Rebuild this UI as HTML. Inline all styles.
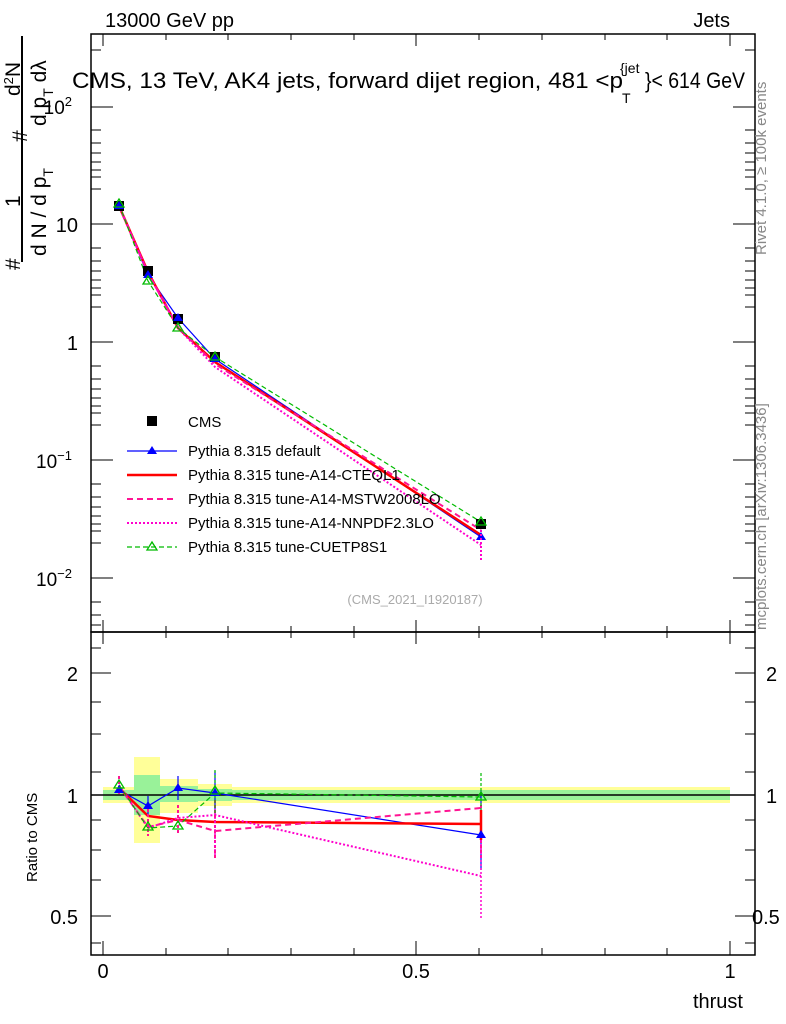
<!DOCTYPE html>
<html><head><meta charset="utf-8"><style>
body{margin:0;background:#fff}
svg{display:block;font-family:"Liberation Sans",sans-serif}
</style></head><body>
<svg width="786" height="1024" xmlns="http://www.w3.org/2000/svg">
<rect width="786" height="1024" fill="#fff"/>
<g>
<rect x="103" y="787" width="31" height="16" fill="#ffff99"/>
<rect x="134" y="757" width="26" height="86" fill="#ffff99"/>
<rect x="160" y="779" width="38" height="34" fill="#ffff99"/>
<rect x="198" y="784" width="34" height="22" fill="#ffff99"/>
<rect x="232" y="787" width="498" height="16" fill="#ffff99"/>
<rect x="103" y="790" width="31" height="10" fill="#99f299"/>
<rect x="134" y="775" width="26" height="40" fill="#99f299"/>
<rect x="160" y="786" width="38" height="16" fill="#99f299"/>
<rect x="198" y="789" width="34" height="12" fill="#99f299"/>
<rect x="232" y="790" width="498" height="10" fill="#99f299"/>
</g>
<line x1="91" y1="795" x2="755" y2="795" stroke="#000" stroke-width="1.5"/>
<rect x="91" y="34" width="664" height="598" fill="none" stroke="#000" stroke-width="1.5"/>
<rect x="91" y="632" width="664" height="323" fill="none" stroke="#000" stroke-width="1.5"/>
<g stroke="#000" stroke-width="1">
<line x1="91" y1="107" x2="113" y2="107"/><line x1="91" y1="224" x2="113" y2="224"/>
<line x1="91" y1="342" x2="113" y2="342"/><line x1="91" y1="460" x2="113" y2="460"/>
<line x1="91" y1="578" x2="113" y2="578"/>
<line x1="755" y1="107" x2="733" y2="107"/><line x1="755" y1="224" x2="733" y2="224"/>
<line x1="755" y1="342" x2="733" y2="342"/><line x1="755" y1="460" x2="733" y2="460"/>
<line x1="755" y1="578" x2="733" y2="578"/>
<path d="M91 50h10M91 130h10M91 143h10M91 153h10M91 162h10M91 170h10M91 177h10M91 189h10M91 248h10M91 261h10M91 271h10M91 280h10M91 288h10M91 295h10M91 307h10M91 366h10M91 379h10M91 389h10M91 398h10M91 406h10M91 413h10M91 425h10M91 484h10M91 497h10M91 507h10M91 516h10M91 524h10M91 531h10M91 543h10M91 602h10M91 615h10M91 625h10"/>
<path d="M755 50h-10M755 130h-10M755 143h-10M755 153h-10M755 162h-10M755 170h-10M755 177h-10M755 189h-10M755 248h-10M755 261h-10M755 271h-10M755 280h-10M755 288h-10M755 295h-10M755 307h-10M755 366h-10M755 379h-10M755 389h-10M755 398h-10M755 406h-10M755 413h-10M755 425h-10M755 484h-10M755 497h-10M755 507h-10M755 516h-10M755 524h-10M755 531h-10M755 543h-10M755 602h-10M755 615h-10M755 625h-10"/>
<path d="M103 34v12M166 34v6M228 34v6M291 34v6M354 34v6M416 34v12M479 34v6M542 34v6M605 34v6M667 34v6M730 34v12"/>
<path d="M103 632v-12M166 632v-6M228 632v-6M291 632v-6M354 632v-6M416 632v-12M479 632v-6M542 632v-6M605 632v-6M667 632v-6M730 632v-12"/>
<path d="M103 632v12M166 632v6M228 632v6M291 632v6M354 632v6M416 632v12M479 632v6M542 632v6M605 632v6M667 632v6M730 632v12"/>
<path d="M103 955v-14M166 955v-7M228 955v-7M291 955v-7M354 955v-7M416 955v-14M479 955v-7M542 955v-7M605 955v-7M667 955v-7M730 955v-14"/>
<path d="M91 673h20M91 795h20M91 916h20M91 648h10M91 702h10M91 734h10M91 772h10M91 820h10M91 850h10M91 880h10M91 943h10"/>
<path d="M755 673h-20M755 795h-20M755 916h-20M755 648h-10M755 702h-10M755 734h-10M755 772h-10M755 820h-10M755 850h-10M755 880h-10M755 943h-10"/>
</g>
<g font-size="20" fill="#000">
<text x="105" y="27">13000 GeV pp</text>
<text x="730" y="27" text-anchor="end">Jets</text>
<text x="72" y="114" text-anchor="end" font-size="19">10<tspan font-size="13" dy="-8">2</tspan></text>
<text x="78" y="232" text-anchor="end">10</text>
<text x="78" y="350" text-anchor="end">1</text>
<text x="72" y="468" text-anchor="end" font-size="19">10<tspan font-size="13" dy="-8">−1</tspan></text>
<text x="72" y="586" text-anchor="end" font-size="19">10<tspan font-size="13" dy="-8">−2</tspan></text>
<text x="78" y="681" text-anchor="end">2</text>
<text x="78" y="803" text-anchor="end">1</text>
<text x="78" y="924" text-anchor="end">0.5</text>
<text x="766" y="681">2</text>
<text x="766" y="803">1</text>
<text x="752" y="924">0.5</text>
<text x="103" y="978" text-anchor="middle">0</text>
<text x="416" y="978" text-anchor="middle">0.5</text>
<text x="730" y="978" text-anchor="middle">1</text>
<text x="743" y="1008" text-anchor="end">thrust</text>
<text x="72" y="88" font-size="22" textLength="551" lengthAdjust="spacingAndGlyphs">CMS, 13 TeV, AK4 jets, forward dijet region, 481 &lt;p</text>
<text x="622" y="103" font-size="14">T</text>
<text x="620" y="73" font-size="14">{jet</text>
<text x="645" y="88" font-size="22" textLength="100" lengthAdjust="spacingAndGlyphs">}&lt; 614 GeV</text>
</g>
<text x="415" y="604" font-size="13" fill="#aaa" text-anchor="middle">(CMS_2021_I1920187)</text>
<text transform="translate(37,882) rotate(-90)" font-size="15">Ratio to CMS</text>
<text transform="translate(766,255) rotate(-90)" font-size="15" fill="#888">Rivet 4.1.0, ≥ 100k events</text>
<text transform="translate(766,630) rotate(-90)" font-size="15" fill="#888">mcplots.cern.ch [arXiv:1306.3436]</text>
<line x1="22" y1="36" x2="22" y2="262" stroke="#000" stroke-width="2"/>
<g font-size="21">
<text transform="translate(20,270) rotate(-90)">#</text>
<text transform="translate(20,207) rotate(-90)">1</text>
<text transform="translate(27,142) rotate(-90)">#</text>
<text transform="translate(20,96) rotate(-90)">d<tspan font-size="13" dy="-7">2</tspan><tspan dy="7">N</tspan></text>
<text transform="translate(46,256) rotate(-90)">d N / d p<tspan font-size="14" dy="7">T</tspan></text>
<text transform="translate(46,126) rotate(-90)">d p<tspan font-size="14" dy="7">T</tspan><tspan dy="-7">  d</tspan>λ</text>
</g>
<g fill="none" stroke-width="1.5">
<polyline points="119,206 148,275 178,318 215,359 481,537" stroke="#0000ff" stroke-width="1.2"/>
<polyline points="119,206 148,272 178,328 215,362 481,535" stroke="#ff0000" stroke-width="2.5"/>
<polyline points="119,206 148,273 178,327 215,364 481,530" stroke="#ff1493" stroke-dasharray="6,4" stroke-width="2"/>
<polyline points="119,206 148,273 178,328 215,367 481,545" stroke="#ff00cc" stroke-dasharray="2,2" stroke-width="2"/>
<polyline points="119,204 148,281 178,328 215,357 481,522" stroke="#00bb00" stroke-dasharray="5,3" stroke-width="1.2"/>
</g>
<g fill="#000">
<rect x="114" y="201" width="10" height="10"/><rect x="143" y="266" width="10" height="10"/>
<rect x="173" y="314" width="10" height="10"/><rect x="210" y="352" width="10" height="10"/>
<rect x="476" y="519" width="10" height="10"/>
</g>
<g fill="#0000ff">
<path d="M119 201l5 8h-10z"/><path d="M148 270l5 8h-10z"/><path d="M178 313l5 8h-10z"/><path d="M215 354l5 8h-10z"/><path d="M481 532l5 8h-10z"/>
</g>
<g fill="none" stroke="#00bb00" stroke-width="1.3">
<path d="M119 199l5 8h-10z"/><path d="M148 276l5 8h-10z"/><path d="M178 323l5 8h-10z"/><path d="M215 352l5 8h-10z"/><path d="M481 517l5 8h-10z"/>
</g>
<path d="M481 530v32" stroke="#ff00cc" stroke-dasharray="2,2" stroke-width="2"/>
<g fill="none">
<polyline points="119,790 148,806 178,788 215,793 481,835" stroke="#0000ff" stroke-width="1.2"/>
<polyline points="119,788 148,816 178,820 215,822 481,824" stroke="#ff0000" stroke-width="2.5"/>
<polyline points="119,786 148,827 178,820 215,831 481,808" stroke="#ff1493" stroke-width="2" stroke-dasharray="6,4"/>
<polyline points="119,785 148,828 178,818 215,815 481,876" stroke="#ff00cc" stroke-width="2" stroke-dasharray="2,2"/>
<polyline points="119,785 148,828 178,826 215,793 481,797" stroke="#00bb00" stroke-width="1.2" stroke-dasharray="5,3"/>
<path d="M148 796v18M178 776v24M215 771v44M481 790v80" stroke="#0000ff" stroke-width="1.2"/>
<path d="M119 776v18M148 804v32M178 805v30M215 800v58M481 805v55" stroke="#ff1493" stroke-width="2" stroke-dasharray="3,2"/>
<path d="M481 840v80M215 805v50" stroke="#ff00cc" stroke-width="1.5" stroke-dasharray="2,2"/>
<path d="M215 770v45M481 773v50" stroke="#00bb00" stroke-width="1.2" stroke-dasharray="3,2"/>
<path d="M481 810v30" stroke="#ff0000" stroke-width="2.5"/>
</g>
<g fill="#0000ff">
<path d="M119 785l5 8h-10z"/><path d="M148 801l5 8h-10z"/><path d="M178 783l5 8h-10z"/><path d="M215 788l5 8h-10z"/><path d="M481 830l5 8h-10z"/>
</g>
<g fill="none" stroke="#00bb00" stroke-width="1.3">
<path d="M119 780l5 8h-10z"/><path d="M148 822l5 8h-10z"/><path d="M178 821l5 8h-10z"/><path d="M215 786l5 8h-10z"/><path d="M481 792l5 8h-10z"/>
</g>
<g font-size="15">
<rect x="147" y="416" width="10" height="10" fill="#000"/>
<text x="188" y="427">CMS</text>
<line x1="127" y1="451" x2="177" y2="451" stroke="#0000ff" stroke-width="1.2"/>
<path d="M152 446l5 8h-10z" fill="#0000ff"/>
<text x="188" y="456">Pythia 8.315 default</text>
<line x1="127" y1="475" x2="177" y2="475" stroke="#ff0000" stroke-width="2.5"/>
<text x="188" y="480">Pythia 8.315 tune-A14-CTEQL1</text>
<line x1="127" y1="499" x2="177" y2="499" stroke="#ff1493" stroke-width="2" stroke-dasharray="6,4"/>
<text x="188" y="504">Pythia 8.315 tune-A14-MSTW2008LO</text>
<line x1="127" y1="523" x2="177" y2="523" stroke="#ff00cc" stroke-width="2" stroke-dasharray="2,2"/>
<text x="188" y="528">Pythia 8.315 tune-A14-NNPDF2.3LO</text>
<line x1="127" y1="547" x2="177" y2="547" stroke="#00bb00" stroke-width="1.2" stroke-dasharray="5,3"/>
<path d="M152 542l5 8h-10z" fill="none" stroke="#00bb00" stroke-width="1.3"/>
<text x="188" y="552">Pythia 8.315 tune-CUETP8S1</text>
</g>
</svg>
</body></html>
